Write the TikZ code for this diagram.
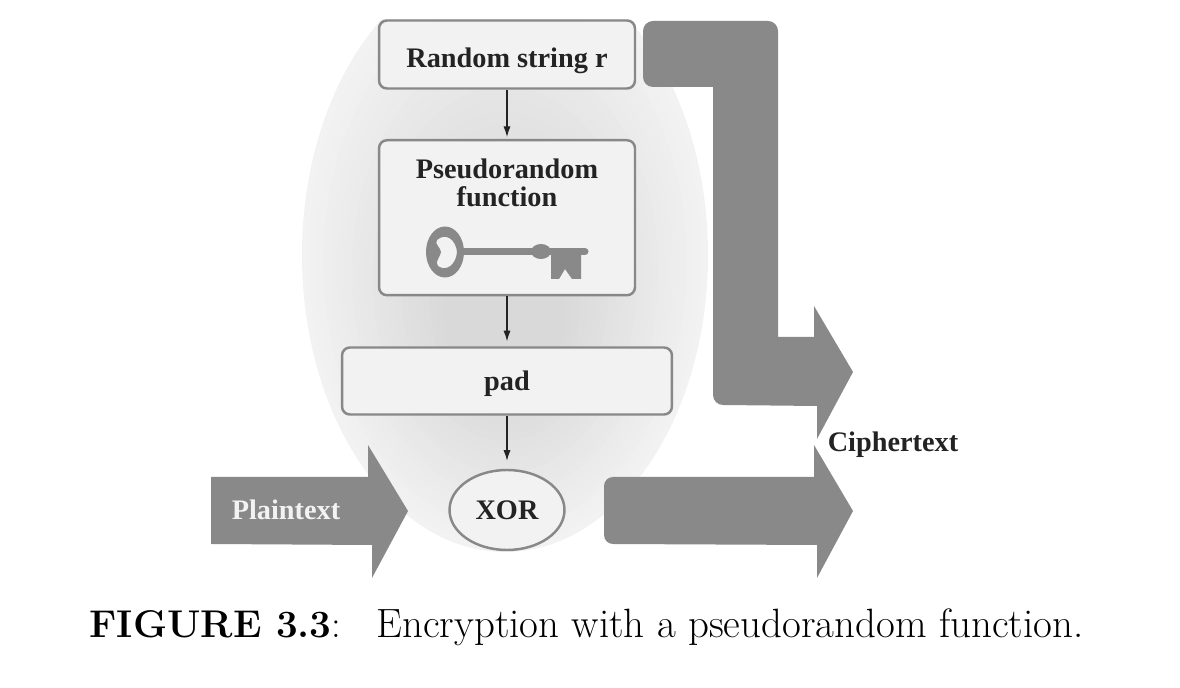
\documentclass[tikz,border=0pt]{standalone}
\usepackage{fontspec}
\usepackage{tikz}
\usetikzlibrary{calc,arrows.meta,shapes.geometric}
\newfontfamily\labelfont{Liberation Serif}
\definecolor{blockgray}{RGB}{137, 137, 137}
\definecolor{edgegray}{RGB}{136, 136, 136}
\definecolor{boxfill}{RGB}{242, 242, 242}
\definecolor{textdark}{RGB}{35, 35, 35}
\tikzset{
  stagelabel/.style={font=\labelfont\bfseries\fontsize{16.1}{15.9}\selectfont, text=textdark, align=center},
  stagebox/.style={stagelabel, draw=edgegray, fill=boxfill, line width=1.4pt, rounded corners=4.5pt, text height=17pt, text depth=2pt},
  flowarrow/.style={-{Latex[length=6pt,width=4pt]}, line width=0.6pt, color=textdark},
}
\begin{document}
\begin{tikzpicture}[x=0.02cm,y=-0.02cm]
    \useasboundingbox (0,0) rectangle (1180,688);
    % shaded blob behind the stages
    \begin{scope}
      \clip (0,20) rectangle (1180,688);
      \foreach \i in {0,...,20} {
        \pgfmathsetmacro{\s}{1-\i*0.035}
        \pgfmathsetmacro{\p}{5+\i*0.5}
        \pgfmathsetmacro{\cy}{255+(1-\s)*70}
        \fill[black!\p!white] (505,\cy) ellipse ({203*\s} and {297*\s});
      }
    \end{scope}
    \node[stagebox, minimum width=5.12cm, minimum height=1.36cm] (random) at (507,54.5) {Random string r};
    \node[stagebox, minimum width=5.12cm, minimum height=3.1cm, anchor=north] (prf) at (507,139) {};
    \node[stagelabel] (prflabel) at (507,183) {Pseudorandom\\function};
    \node[stagebox, minimum width=6.6cm, minimum height=1.34cm, text height=13pt] (pad) at (507,381) {pad};
    \node[stagebox, ellipse, minimum width=2.3cm, minimum height=1.6cm, inner sep=0pt, text height=10.6pt, text depth=0pt] (xor) at (507,510) {XOR};
    \coordinate (xortop) at ($(xor.north)+(0,-8)$);
    \draw[flowarrow] (random) -- ($(prf.north)+(0,-2)$);
    \draw[flowarrow] (prf) -- ($(pad.north)+(0,-5)$);
    \draw[flowarrow] (pad) -- (xortop);
    % key
    \fill[blockgray, even odd rule] (445,252) ellipse (19 and 25.5)
      (437,240) .. controls (446,232) and (456,240) .. (457,252) .. controls (456,265) and (446,272) .. (438,266) .. controls (434,262) and (441,256) .. (441,252) .. controls (441,248) and (434,244) .. (437,240) -- cycle;
    \draw[blockgray, line width=4pt, line cap=round] (463,251.5) -- (585,251.5);
    \fill[blockgray] (541,251.5) ellipse (10 and 7.5);
    \fill[blockgray] (551,251) -- (581,251) -- (581,279) -- (572,279) -- (565,269) -- (559,279) -- (551,279) -- cycle;
    % big arrows
    \fill[blockgray] (211,477) -- (368,477) -- (368,445) -- (408,511) -- (372,578) -- (372,545) -- (211,544) -- cycle;
    \fill[blockgray] (613,477) -- (814,477) -- (814,445) -- (853,511) -- (817,578) -- (817,545) -- (613,544) arc (90:180:9) -- (604,486) arc (180:270:9) -- cycle;
    \fill[blockgray] (653,21) -- (768,21) arc (-90:0:10) -- (778,337) -- (814,337) -- (814,306) -- (853,372) -- (817,439) -- (817,406) -- (723,405) arc (90:180:10) -- (713,87) -- (653,87) arc (90:180:10) -- (643,31) arc (180:270:10) -- cycle;
    \node[stagelabel, text=boxfill] (plain) at (286,510) {Plaintext};
    \node[stagelabel] (cipher) at (893,445) {Ciphertext};
    \node[text=black] (caption) at (586.5,627) {{\fontsize{22}{26}\selectfont\textbf{FIGURE 3.3}:}\hspace{20pt}{\fontsize{23.3}{26}\selectfont Encryption with a pseudorandom function.}};
\end{tikzpicture}
\end{document}
